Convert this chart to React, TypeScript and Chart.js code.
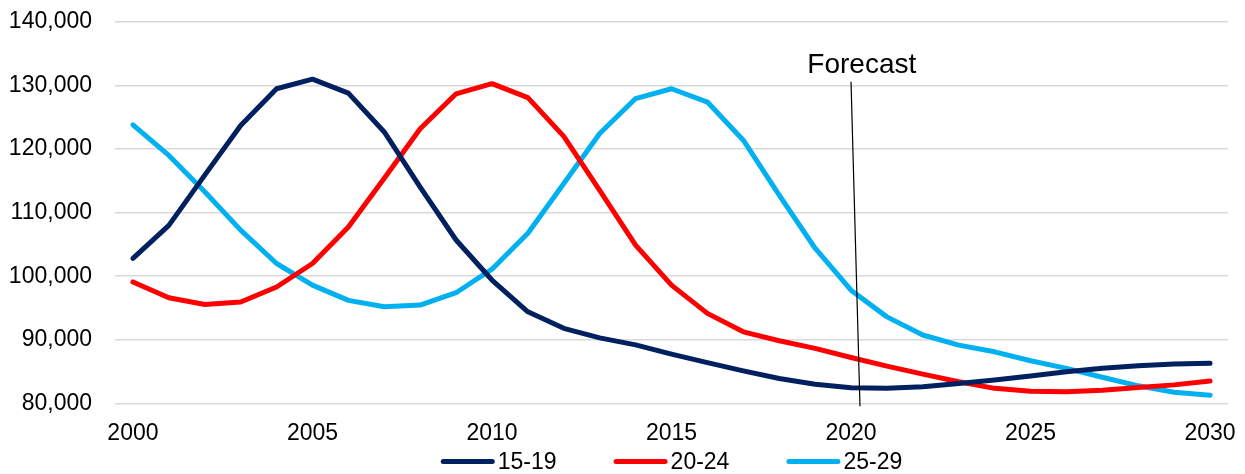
import React, { useEffect, useRef } from "react";
import { Chart, registerables } from "chart.js";

Chart.register(...registerables);

const years: string[] = [
  "2000", "2001", "2002", "2003", "2004", "2005", "2006", "2007", "2008", "2009",
  "2010", "2011", "2012", "2013", "2014", "2015", "2016", "2017", "2018", "2019",
  "2020", "2021", "2022", "2023", "2024", "2025", "2026", "2027", "2028", "2029", "2030",
];

const series1519: number[] = [
  102800, 108000, 115900, 123700, 129500, 131000, 128800, 122700, 114000, 105700,
  99400, 94400, 91800, 90300, 89200, 87750, 86400, 85100, 83900, 83000,
  82450, 82350, 82600, 83100, 83650, 84300, 84950, 85500, 85900, 86200, 86300,
];

const series2024: number[] = [
  99100, 96600, 95550, 95950, 98300, 102000, 107750, 115400, 123200, 128700,
  130300, 128100, 122000, 113500, 104900, 98600, 94150, 91250, 89850, 88650,
  87200, 85850, 84600, 83400, 82350, 81900, 81800, 82050, 82500, 82900, 83500,
];

const series2529: number[] = [
  123800, 119000, 113300, 107250, 102000, 98600, 96200, 95200, 95450, 97400,
  101100, 106750, 114600, 122450, 127950, 129500, 127400, 121400, 112750, 104400,
  97800, 93600, 90750, 89150, 88100, 86700, 85500, 84100, 82750, 81750, 81250,
];

const seriesLabels: string[] = ["15-19", "20-24", "25-29"];
const seriesColors: string[] = ["#002060", "#FF0000", "#00B0F0"];

const yMin = 80000;
const yMax = 140000;
const yStep = 10000;

const forecastText = "Forecast";
const forecastTopIndex = 20;
const forecastBottomIndex = 20.25;
const forecastTopValue = 130600;
const forecastTextIndex = 20.3;
const forecastTextValue = 131900;

const FONT = "'Liberation Sans', Arial, sans-serif";

export default function App() {
  const canvasRef = useRef<HTMLCanvasElement | null>(null);

  useEffect(() => {
    document.body.style.margin = "0";
    const canvas = canvasRef.current;
    if (!canvas) return;

    const idxToPx = (chart: any, idx: number) => {
      const x = chart.scales.x;
      const a = x.getPixelForValue(Math.floor(idx));
      const b = x.getPixelForValue(Math.floor(idx) + 1);
      return a + (b - a) * (idx - Math.floor(idx));
    };

    const forecastPlugin = {
      id: "forecast",
      afterDatasetsDraw(chart: any) {
        const ctx = chart.ctx;
        const y = chart.scales.y;
        const xTop = idxToPx(chart, forecastTopIndex);
        const xBot = idxToPx(chart, forecastBottomIndex);
        const yTop = y.getPixelForValue(forecastTopValue);
        const yBot = chart.chartArea.bottom + 3;
        ctx.save();
        ctx.strokeStyle = "#000";
        ctx.lineWidth = 1.2;
        ctx.beginPath();
        ctx.moveTo(xTop, yTop);
        ctx.lineTo(xBot, yBot);
        ctx.stroke();
        ctx.fillStyle = "#000";
        ctx.font = `28px ${FONT}`;
        ctx.textAlign = "center";
        ctx.textBaseline = "alphabetic";
        ctx.fillText(forecastText, idxToPx(chart, forecastTextIndex), y.getPixelForValue(forecastTextValue));
        ctx.restore();
      },
    };

    const legendPlugin = {
      id: "customLegend",
      afterDraw(chart: any) {
        const ctx = chart.ctx;
        const area = chart.chartArea;
        const lineLen = 54;
        const gap = 3;
        const itemGap = 57;
        ctx.save();
        ctx.font = `23px ${FONT}`;
        const items = chart.data.datasets.map((ds: any) => ({
          label: ds.label,
          color: ds.borderColor,
          w: ctx.measureText(ds.label).width,
        }));
        const total =
          items.reduce((s: number, it: any) => s + lineLen + gap + it.w, 0) + itemGap * (items.length - 1);
        let x = (area.left + area.right) / 2 - total / 2;
        const yc = 461.5;
        items.forEach((it: any) => {
          ctx.strokeStyle = it.color;
          ctx.lineWidth = 5;
          ctx.lineCap = "round";
          ctx.beginPath();
          ctx.moveTo(x + 2.5, yc);
          ctx.lineTo(x + lineLen - 2.5, yc);
          ctx.stroke();
          ctx.fillStyle = "#000";
          ctx.textAlign = "left";
          ctx.textBaseline = "middle";
          ctx.fillText(it.label, x + lineLen + gap, yc + 1);
          x += lineLen + gap + it.w + itemGap;
        });
        ctx.restore();
      },
    };

    const allSeries = [series1519, series2024, series2529];

    const chart = new Chart(canvas, {
      type: "line",
      data: {
        labels: years,
        datasets: allSeries.map((data, i) => ({
          label: seriesLabels[i],
          data,
          borderColor: seriesColors[i],
          backgroundColor: seriesColors[i],
          borderWidth: 5,
          borderCapStyle: "round",
          borderJoinStyle: "round",
          pointRadius: 0,
          pointHoverRadius: 0,
          tension: 0,
          fill: false,
        })),
      },
      options: {
        animation: false,
        responsive: false,
        maintainAspectRatio: false,
        layout: { padding: { top: 22, right: 17, left: 0, bottom: 0 } },
        plugins: {
          legend: { display: false },
          tooltip: { enabled: false },
        },
        scales: {
          x: {
            type: "category",
            offset: true,
            grid: { display: false, drawTicks: false },
            border: { display: false },
            ticks: {
              autoSkip: false,
              maxRotation: 0,
              minRotation: 0,
              padding: 17,
              color: "#000",
              font: { family: FONT, size: 23 },
              callback: (_v: any, idx: number) => (idx % 5 === 0 ? years[idx] : ""),
            },
            afterFit: (axis: any) => {
              axis.height = 70.7;
              axis.paddingLeft = 0;
              axis.paddingRight = 0;
            },
          },
          y: {
            min: yMin,
            max: yMax,
            grid: { color: "#D9D9D9", lineWidth: 1.5, drawTicks: false },
            border: { display: false },
            ticks: {
              stepSize: yStep,
              padding: 23,
              color: "#000",
              font: { family: FONT, size: 23 },
              callback: (v: any) => Number(v).toLocaleString("en-US"),
            },
            afterFit: (axis: any) => {
              axis.width = 115;
              axis.paddingTop = 0;
              axis.paddingBottom = 0;
            },
          },
        },
      },
      plugins: [forecastPlugin, legendPlugin],
    } as any);

    return () => chart.destroy();
  }, []);

  return <canvas ref={canvasRef} width={1245} height={474} style={{ display: "block" }} />;
}
